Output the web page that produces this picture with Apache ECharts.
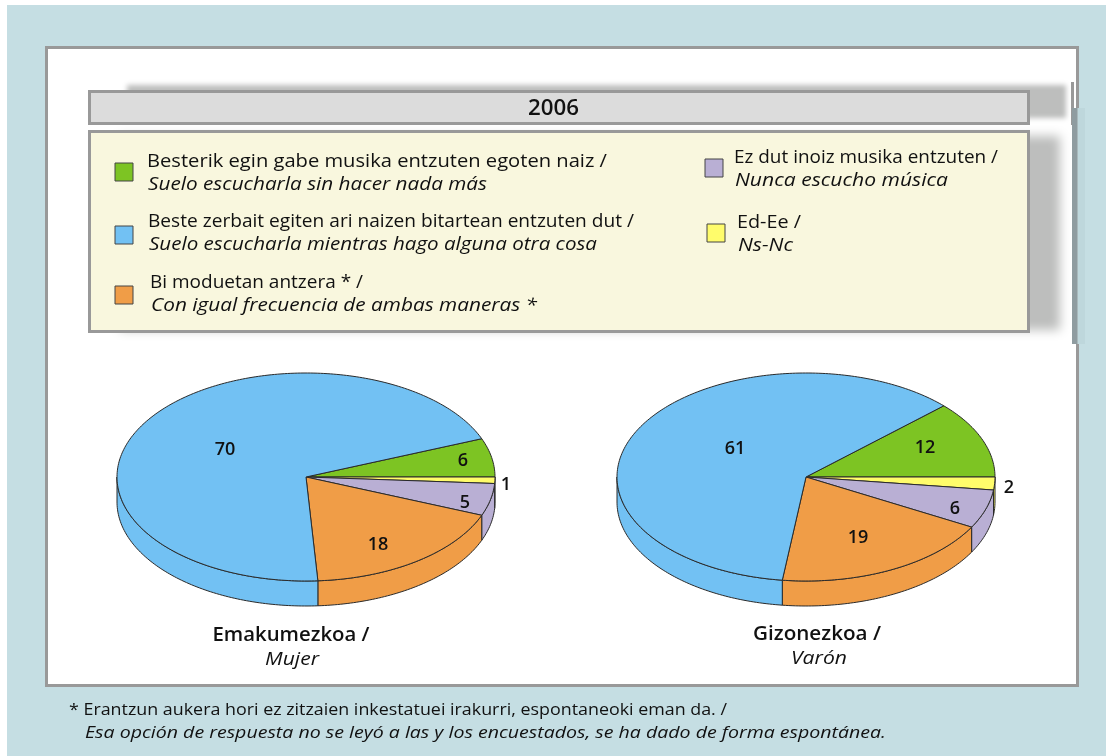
<!DOCTYPE html>
<html>
<head>
<meta charset="utf-8">
<title>2006</title>
<style>
  html, body { margin: 0; padding: 0; background: #fff; }
  #chart { width: 1106px; height: 756px; }
</style>
<script src="https://cdn.jsdelivr.net/npm/echarts@6/dist/echarts.min.js"></script>
</head>
<body>
<div id="chart"></div>
<script>
// slices in drawing order, clockwise
const categoriesEu = [
  "Besterik egin gabe musika entzuten egoten naiz /",
  "Ed-Ee /",
  "Ez dut inoiz musika entzuten /",
  "Bi moduetan antzera * /",
  "Beste zerbait egiten ari naizen bitartean entzuten dut /",
];
const categoriesEs = [
  "Suelo escucharla sin hacer nada más",
  "Ns-Nc",
  "Nunca escucho música",
  "Con igual frecuencia de ambas maneras *",
  "Suelo escucharla mientras hago alguna otra cosa",
];
const mujerValues = [6, 1, 5, 18, 70];
const varonValues = [12, 2, 6, 19, 61];
const sliceColors = ["#7DC423", "#FFFC6B", "#B9AFD4", "#F09D47", "#72C1F3"];

const titleText = "2006";
const noteEu = "* Erantzun aukera hori ez zitzaien inkestatuei irakurri, espontaneoki eman da. /";
const noteEs = "Esa opción de respuesta no se leyó a las y los encuestados, se ha dado de forma espontánea.";

const FONT = '"Open Sans", sans-serif';
const INK = "#111";

// swatch box, text position and text widths for each category
const legendSlots = [
  { x: 115, y: 163, w: 18, h: 18, tx: 147, ty: 162, euW: 460, esW: 339 },
  { x: 707, y: 224, w: 18, h: 18, tx: 737, ty: 223, euW: 64, esW: 55 },
  { x: 705, y: 159, w: 18, h: 18, tx: 734, ty: 158, euW: 264, esW: 213 },
  { x: 115, y: 286, w: 18, h: 18, tx: 150, ty: 283, euW: 213, esW: 386 },
  { x: 115, y: 226, w: 18, h: 18, tx: 148, ty: 222, euW: 486, esW: 448 },
];

// value label offsets from the pie centre
const mujerLabels = [[157, -16], [200, 8], [159, 26], [72, 68], [-81, -27]];
const varonLabels = [[119, -29], [203, 11], [149, 32], [52, 61], [-71, -28]];

const RX = 189;
const RY = 104;
const DEPTH = 25;

const arcPoints = (cx, cy, from, to) => {
  const pts = [];
  const steps = Math.max(2, Math.ceil(Math.abs(to - from)));
  for (let i = 0; i <= steps; i++) {
    const a = ((from + ((to - from) * i) / steps) * Math.PI) / 180;
    pts.push([cx + RX * Math.cos(a), cy + RY * Math.sin(a)]);
  }
  return pts;
};

const pieSeries = (name, values, labels, cx, cy) => ({
  type: "custom",
  name,
  coordinateSystem: "none",
  silent: true,
  animation: false,
  data: values.map((v, i) => ({ name: categoriesEu[i], value: v })),
  renderItem: (params, api) => {
    const i = params.dataIndex;
    const before = values.slice(0, i).reduce((a, b) => a + b, 0);
    // first slice ends at 3 o'clock
    const a0 = (before - values[0]) * 3.6;
    const a1 = a0 + api.value(0) * 3.6;
    const style = { fill: sliceColors[i], stroke: "#2a2a2a", lineWidth: 1 };
    const children = [];
    // side wall only on the front half
    const w0 = Math.max(a0, 0);
    const w1 = Math.min(a1, 180);
    if (w1 > w0) {
      const upper = arcPoints(cx, cy, w0, w1);
      const lower = arcPoints(cx, cy + DEPTH, w1, w0);
      children.push({ type: "polygon", shape: { points: upper.concat(lower) }, style });
    }
    children.push({
      type: "polygon",
      shape: { points: [[cx, cy]].concat(arcPoints(cx, cy, a0, a1)) },
      style,
    });
    children.push({
      type: "text",
      z2: 10,
      style: {
        x: cx + labels[i][0],
        y: cy + labels[i][1],
        text: String(api.value(0)),
        fill: INK,
        font: "600 18px " + FONT,
        align: "center",
        verticalAlign: "middle",
      },
    });
    return { type: "group", children };
  },
});

const measureCtx = document.createElement("canvas").getContext("2d");

// the reference type is wide, so text is stretched to the measured width
const text = (x, y, str, size, opts = {}) => {
  const font = `${opts.italic ? "italic " : ""}${opts.weight || 400} ${size}px ${FONT}`;
  measureCtx.font = font;
  return {
    type: "text",
    z: 20,
    silent: true,
    x,
    y,
    scaleX: opts.width ? opts.width / measureCtx.measureText(str).width : 1,
    style: {
      x: 0,
      y: 0,
      text: str,
      fill: INK,
      font,
      align: opts.align || "left",
      verticalAlign: "middle",
    },
  };
};

const box = (x, y, w, h, fill, stroke, lineWidth, z) => ({
  type: "rect",
  z,
  silent: true,
  shape: { x, y, width: w, height: h },
  style: { fill, stroke, lineWidth },
});

// only the blur of the rect lands on the page, the rect stays off canvas
const softShadow = (x, y, w, h, blur, color) => ({
  type: "rect",
  z: 3,
  silent: true,
  shape: { x: x - 3000, y, width: w, height: h },
  style: { fill: color, shadowBlur: blur, shadowColor: color, shadowOffsetX: 3000 },
});

const legendGraphics = [];
categoriesEu.forEach((eu, i) => {
  const s = legendSlots[i];
  legendGraphics.push(box(s.x, s.y, s.w, s.h, sliceColors[i], "#444", 1, 15));
  legendGraphics.push(text(s.tx, s.ty, eu, 18, { weight: 500, width: s.euW }));
  legendGraphics.push(text(s.tx + 1, s.ty + 23, categoriesEs[i], 18, { italic: true, weight: 500, width: s.esW }));
});

const chart = echarts.init(document.getElementById("chart"), null, { renderer: "canvas" });
chart.setOption({
  animation: false,
  backgroundColor: "#fff",
  graphic: [
    box(7, 5, 1099, 751, "#C5DEE3", null, 0, 1),
    box(46.5, 47.5, 1031, 638, "#fff", "#999", 3, 2),
    // soft shadows behind the boxes
    softShadow(127, 85, 939, 33, 5, "#BDBEBD"),
    softShadow(120, 136, 940, 194, 10, "#BDBEBD"),
    // scan seam at the right edge of the panel
    box(1071, 82, 3, 43, "#999", null, 0, 4),
    box(1072, 108, 5.5, 236, "#8F9CA0", null, 0, 4),
    box(1077.5, 108, 7.5, 236, "#BED7DC", null, 0, 4),
    box(89.5, 91.5, 939, 32, "#DCDCDC", "#999", 3, 5),
    box(89.5, 131.5, 939, 200, "#F9F7DE", "#999", 3, 5),
    text(553.5, 109, titleText, 22, { weight: 600, align: "center", width: 51 }),
    ...legendGraphics,
    text(291, 636, "Emakumezkoa /", 19, { weight: 600, align: "center", width: 157 }),
    text(292, 660, "Mujer", 19, { italic: true, weight: 500, align: "center", width: 54 }),
    text(817, 635, "Gizonezkoa /", 19, { weight: 600, align: "center", width: 128 }),
    text(819, 659, "Varón", 19, { italic: true, weight: 500, align: "center", width: 56 }),
    text(69, 710, noteEu, 16.5, { width: 658 }),
    text(85, 733, noteEs, 16.5, { italic: true, width: 801 }),
  ],
  series: [
    pieSeries("Emakumezkoa / Mujer", mujerValues, mujerLabels, 306, 477),
    pieSeries("Gizonezkoa / Varón", varonValues, varonLabels, 806, 477),
  ],
});
</script>
</body>
</html>
